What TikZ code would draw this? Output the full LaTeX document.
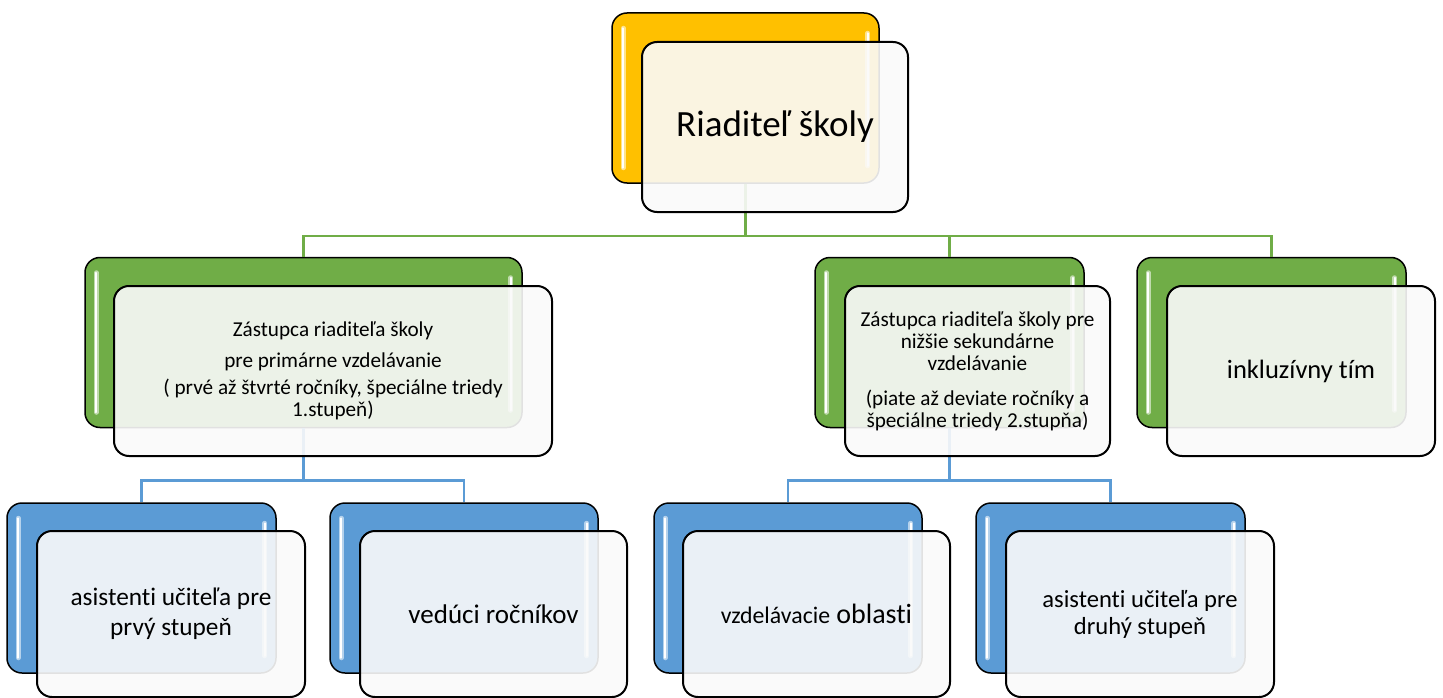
\documentclass[tikz,border=0pt]{standalone}
\usepackage{fontspec}
\setmainfont{Carlito}[Ligatures=NoCommon]
\usepackage{xcolor}
\usetikzlibrary{calc}

\definecolor{orgyellow}{HTML}{FFC000}
\definecolor{orggreen}{HTML}{70AD47}
\definecolor{orgblue}{HTML}{5B9BD5}

\begin{document}
\begin{tikzpicture}[x=1pt, y=-1pt,
  back/.style={draw=black, line width=1.5pt, rounded corners=15pt, minimum height=170pt, inner sep=0pt},
  front/.style={draw=black, line width=2pt, rounded corners=15pt, fill=gray!4, fill opacity=0.9, text opacity=1,
    minimum height=170pt, inner sep=0pt, align=center},
  glint/.style={line width=1.5pt, line cap=round, draw=#1!45!white, double=white, double distance=2pt},
  link/.style={line width=2.5pt}]
\useasboundingbox (0,0) rectangle (1443,698);

% coloured back cards
\node[back, fill=orgyellow, minimum width=267pt] (dirB) at (745.5,98) {};
\node[back, fill=orggreen, minimum width=437pt] (zpPB) at (303.5,342.5) {};
\node[back, fill=orggreen, minimum width=269pt] (zpSB) at (949.5,342.5) {};
\node[back, fill=orggreen, minimum width=269pt] (itB) at (1271.5,342.5) {};
\node[back, fill=orgblue, minimum width=269pt] (asPB) at (141.5,588) {};
\node[back, fill=orgblue, minimum width=268pt] (vrB) at (464,588) {};
\node[back, fill=orgblue, minimum width=268pt] (voB) at (788,588) {};
\node[back, fill=orgblue, minimum width=269pt] (asDB) at (1110.5,588) {};
\foreach \n/\c in {dirB/orgyellow, zpPB/orggreen, zpSB/orggreen, itB/orggreen,
    asPB/orgblue, vrB/orgblue, voB/orgblue, asDB/orgblue} {
  \draw[glint=\c] ([shift={(12,16)}]\n.north west) -- ([shift={(12,-16)}]\n.south west);
  \draw[glint=\c] ([shift={(-12,21)}]\n.north east) -- ([shift={(-12,-18)}]\n.south east);
}

% connectors
\draw[link, orggreen] (dirB.south) -- ++(0,52) -| (zpPB.north);
\draw[link, orggreen] (dirB.south) -- ++(0,52) -| (zpSB.north);
\draw[link, orggreen] (dirB.south) -- ++(0,52) -| (itB.north);
\draw[link, orgblue] (zpPB.south) -- ++(0,52) -| (asPB.north);
\draw[link, orgblue] (zpPB.south) -- ++(0,52) -| (vrB.north);
\draw[link, orgblue] (zpSB.south) -- ++(0,52) -| (voB.north);
\draw[link, orgblue] (zpSB.south) -- ++(0,52) -| (asDB.north);

% front cards with text
\node[front, minimum width=266pt, font=\fontsize{37}{44}\selectfont] (dirF) at (775,127) {Riaditeľ školy};
\node[front, minimum width=438pt, font=\fontsize{21.2}{22}\selectfont] (zpPF) at (333,371)
  {Zástupca riaditeľa školy\\[9pt]pre primárne vzdelávanie\\[5pt]( prvé až štvrté ročníky, špeciálne triedy\\1.stupeň)};
\node[front, minimum width=265pt, font=\fontsize{21.2}{22}\selectfont] (zpSF) at (977.5,371)
  {Zástupca riaditeľa školy pre\\nižšie sekundárne\\vzdelávanie\\[13pt](piate až deviate ročníky a\\špeciálne triedy 2.stupňa)};
\node[front, minimum width=268pt, font=\fontsize{26.5}{30}\selectfont] (itF) at (1301,371) {inkluzívny tím};
\node[front, minimum width=268pt, minimum height=166pt, font=\fontsize{25.3}{30}\selectfont] (asPF) at (171,614)
  {asistenti učiteľa pre\\prvý stupeň};
\node[front, minimum width=267pt, minimum height=166pt, font=\fontsize{27}{30}\selectfont] (vrF) at (493.5,614) {vedúci ročníkov};
\node[front, minimum width=267pt, minimum height=166pt, font=\fontsize{28}{30}\selectfont] (voF) at (816.5,614)
  {{\fontsize{23.8}{30}\selectfont vzdelávacie} oblasti};
\node[front, minimum width=268pt, minimum height=166pt, font=\fontsize{24.6}{27}\selectfont] (asDF) at (1140,614)
  {asistenti učiteľa pre\\druhý stupeň};
\end{tikzpicture}
\end{document}
